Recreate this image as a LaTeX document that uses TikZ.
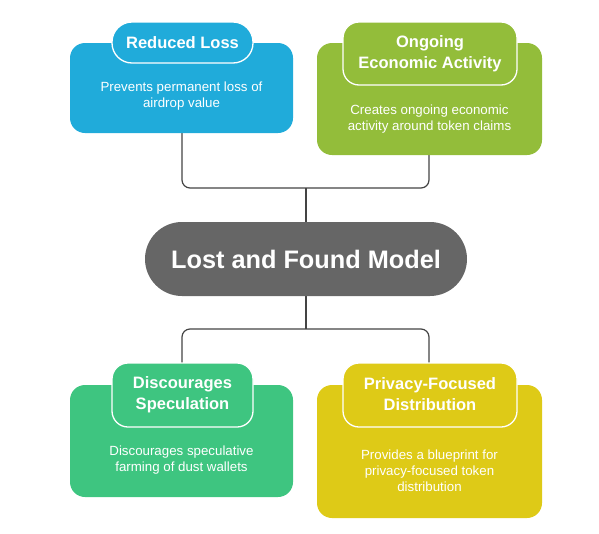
\documentclass[tikz,border=0pt]{standalone}
\usepackage{fontspec}
\setmainfont{Liberation Sans}
\definecolor{cblue}{HTML}{20ABDA}
\definecolor{colive}{HTML}{93BD3A}
\definecolor{cgreen}{HTML}{3EC580}
\definecolor{cyellow}{HTML}{DECA17}
\definecolor{cgray}{HTML}{666666}
\definecolor{cline}{HTML}{444444}
\begin{document}
\begin{tikzpicture}[x=1pt,y=-1pt,
  box/.style={rounded corners=15pt},
  pill/.style={draw=white,line width=1.3pt,rounded corners=16pt},
  ttl/.style={text=white,font=\bfseries\fontsize{16.5}{21}\selectfont,align=center},
  body/.style={text=white,font=\fontsize{13.3}{16}\selectfont,align=center},
  conn/.style={draw=cline,line width=1.2pt,rounded corners=8pt}]
\useasboundingbox (0,0) rectangle (599,533);
% connectors
\coordinate (tl) at (182,133);
\coordinate (tr) at (429,155);
\coordinate (bl) at (182,363);
\coordinate (br) at (429,363);
\coordinate (tm) at (306,188);
\coordinate (bm) at (306,329);
\draw[conn] (tl) |- (tm) -| (tr);
\draw[conn] (tm) -- (306,222);
\draw[conn] (bl) |- (bm) -| (br);
\draw[conn] (bm) -- (306,296);
% center
\node[fill=cgray,rounded corners=37pt,minimum width=322pt,minimum height=74pt,text=white,font=\bfseries\fontsize{25.3}{30}\selectfont] (center) at (306,259) {Lost and Found Model};
% blue
\fill[cblue,box] (70,43) rectangle (293,133);
\filldraw[fill=cblue,pill,rounded corners=20pt] (112,22) rectangle (253,63);
\node[ttl] (t1) at (182.5,42.5) {Reduced Loss};
\node[body] (b1) at (181.5,96.5) {Prevents permanent loss of\\airdrop value};
% olive
\fill[colive,box] (317,43) rectangle (542,155);
\filldraw[fill=colive,pill] (343,22) rectangle (517,85);
\node[ttl] (t2) at (430,53.5) {Ongoing\\Economic Activity};
\node[body] (b2) at (429.5,119.5) {Creates ongoing economic\\activity around token claims};
% green
\fill[cgreen,box] (70,385) rectangle (293,497);
\filldraw[fill=cgreen,pill] (112,363) rectangle (253,427);
\node[ttl] (t3) at (182.5,394.5) {Discourages\\Speculation};
\node[body] (b3) at (181.5,460) {Discourages speculative\\farming of dust wallets};
% yellow
\fill[cyellow,box] (317,385) rectangle (542,518);
\filldraw[fill=cyellow,pill] (343,363) rectangle (517,427);
\node[ttl] (t4) at (430,394.5) {Privacy-Focused\\Distribution};
\node[body] (b4) at (429.5,471) {Provides a blueprint for\\privacy-focused token\\distribution};
\end{tikzpicture}
\end{document}
